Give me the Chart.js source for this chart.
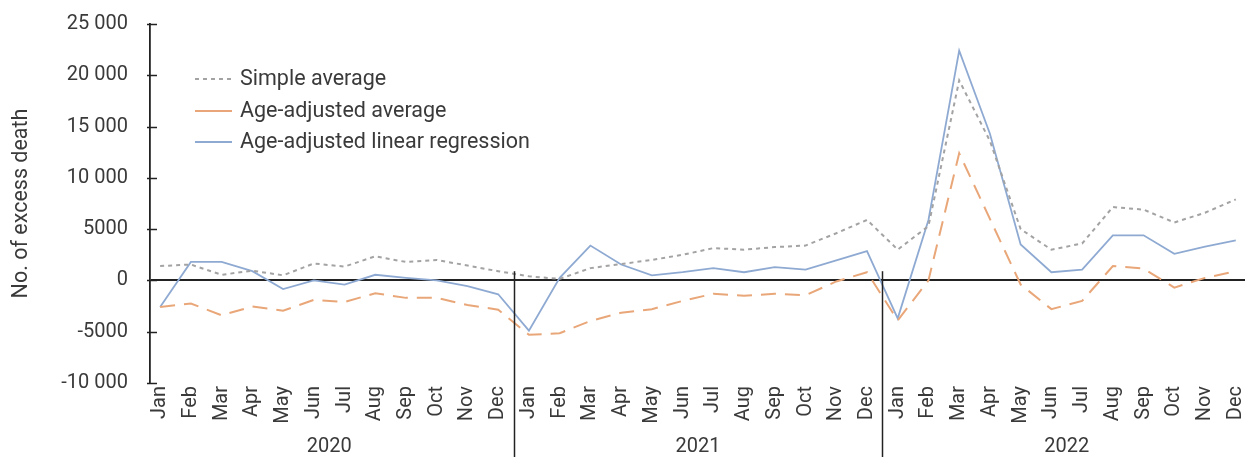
<!DOCTYPE html>
<html>
<head>
<meta charset="utf-8">
<script src="https://cdn.jsdelivr.net/npm/chart.js@4"></script>
<style>
  body { margin: 0; background: #fff; }
  #wrap { width: 1245px; height: 457px; }
</style>
</head>
<body>
<div id="wrap"><canvas id="graph1" width="1245" height="457"></canvas></div>
<script>
const months = ["Jan", "Feb", "Mar", "Apr", "May", "Jun", "Jul", "Aug", "Sep", "Oct", "Nov", "Dec"];
const years = ["2020", "2021", "2022"];
const yTicks = [-10000, -5000, 0, 5000, 10000, 15000, 20000, 25000];

const simpleAvg = [
  1400, 1550, 550, 950, 500, 1650, 1350, 2350, 1800, 2000, 1450, 900,
  400, 150, 1200, 1600, 2000, 2500, 3150, 3000, 3250, 3400, 4600, 5900,
  3000, 5300, 19500, 13600, 5000, 3000, 3600, 7150, 6900, 5650, 6600, 7900
];
const ageAdjAvg = [
  -2600, -2250, -3400, -2550, -2950, -1900, -2100, -1250, -1700, -1700, -2400, -2850,
  -5300, -5150, -3950, -3150, -2800, -2000, -1300, -1500, -1300, -1450, -100, 800,
  -3900, 0, 12400, 6000, -400, -2800, -2000, 1400, 1150, -700, 250, 900
];
const ageAdjReg = [
  -2600, 1800, 1800, 900, -850, 0, -400, 550, 250, 0, -550, -1350,
  -4900, 250, 3400, 1550, 500, 800, 1200, 800, 1300, 1050, 1950, 2850,
  -3700, 5900, 22400, 14300, 3500, 800, 1050, 4400, 4400, 2600, 3300, 3900
];

const FONT = "Roboto, 'Liberation Sans', sans-serif";
const TXT = "#3a3a3a";

function pts(arr) {
  return arr.map((v, i) => ({ x: i, y: v }));
}

function fmt(v) {
  if (Math.abs(v) >= 10000) {
    const s = String(Math.abs(v));
    return (v < 0 ? "-" : "") + s.slice(0, s.length - 3) + " " + s.slice(-3);
  }
  return String(v);
}

// extra drawing: inner ticks, year separators, year labels, legend
const extras = {
  id: "extras",
  afterDraw(chart) {
    const ctx = chart.ctx;
    const xs = chart.scales.x;
    const ys = chart.scales.y;
    ctx.save();
    ctx.strokeStyle = "#222";
    ctx.lineWidth = 1.5;
    yTicks.forEach(t => {
      const py = Math.round(ys.getPixelForValue(t)) + 0.5;
      ctx.beginPath();
      ctx.moveTo(xs.left - 3, py);
      ctx.lineTo(xs.left + 7, py);
      ctx.stroke();
    });
    // year separators
    [11.5, 23.5].forEach(v => {
      const px = Math.round(xs.getPixelForValue(v)) + 0.5;
      ctx.beginPath();
      ctx.moveTo(px, ys.getPixelForValue(900));
      ctx.lineTo(px, chart.height);
      ctx.stroke();
    });
    // year labels
    ctx.fillStyle = TXT;
    ctx.font = "20px " + FONT;
    ctx.textAlign = "center";
    ctx.textBaseline = "middle";
    years.forEach((yr, i) => {
      ctx.fillText(yr, xs.getPixelForValue(i * 12 + 5.5), 447);
    });
    // legend
    ctx.textAlign = "left";
    ctx.font = "21.5px " + FONT;
    const rows = [79, 111, 142];
    chart.data.datasets.forEach((ds, i) => {
      ctx.strokeStyle = ds.borderColor;
      ctx.lineWidth = 2;
      ctx.setLineDash(i === 0 ? ds.borderDash : []);
      ctx.beginPath();
      ctx.moveTo(195, rows[i]);
      ctx.lineTo(232, rows[i]);
      ctx.stroke();
      ctx.setLineDash([]);
      ctx.fillStyle = TXT;
      ctx.fillText(ds.label, 240, rows[i] + 1);
    });
    ctx.restore();
  }
};

new Chart(document.getElementById("graph1").getContext("2d"), {
  type: "line",
  data: {
    datasets: [
      {
        label: "Simple average",
        data: pts(simpleAvg),
        borderColor: "#a3a3a3",
        borderWidth: 2,
        borderDash: [4, 4],
        pointRadius: 0,
        tension: 0
      },
      {
        label: "Age-adjusted average",
        data: pts(ageAdjAvg),
        borderColor: "#e9a779",
        borderWidth: 2,
        borderDash: [15, 9],
        pointRadius: 0,
        tension: 0
      },
      {
        label: "Age-adjusted linear regression",
        data: pts(ageAdjReg),
        borderColor: "#8faad2",
        borderWidth: 1.8,
        pointRadius: 0,
        tension: 0
      }
    ]
  },
  options: {
    responsive: false,
    animation: false,
    devicePixelRatio: 1,
    layout: { padding: { top: 24, right: 0, left: 0, bottom: 0 } },
    plugins: {
      legend: { display: false },
      tooltip: { enabled: false }
    },
    scales: {
      x: {
        type: "linear",
        min: -0.33,
        max: 35.3,
        afterBuildTicks: (scale) => {
          scale.ticks = [];
          for (let i = 0; i < 36; i++) scale.ticks.push({ value: i });
        },
        afterFit: (scale) => {
          scale.height = 74;
          scale.paddingLeft = 0;
          scale.paddingRight = 0;
        },
        grid: { display: false, drawTicks: false },
        border: { display: false },
        ticks: {
          autoSkip: false,
          minRotation: 90,
          maxRotation: 90,
          padding: 3,
          color: TXT,
          font: { family: FONT, size: 20 },
          callback: (v) => months[v % 12]
        }
      },
      y: {
        min: -10000,
        max: 25000,
        afterBuildTicks: (scale) => {
          scale.ticks = yTicks.map(v => ({ value: v }));
        },
        afterFit: (scale) => {
          scale.width = 150;
          scale.paddingTop = 0;
          scale.paddingBottom = 0;
        },
        grid: {
          drawTicks: false,
          color: (c) => c.tick && c.tick.value === 0 ? "#222" : "rgba(0,0,0,0)",
          lineWidth: 2
        },
        border: { display: true, color: "#222", width: 1.8 },
        ticks: {
          padding: 22,
          color: TXT,
          font: { family: FONT, size: 20 },
          callback: (v) => fmt(v)
        },
        title: {
          display: true,
          text: "No. of excess death",
          color: TXT,
          font: { family: FONT, size: 21.5 },
          padding: { top: 9, bottom: 0 }
        }
      }
    }
  },
  plugins: [extras]
});
</script>
</body>
</html>
